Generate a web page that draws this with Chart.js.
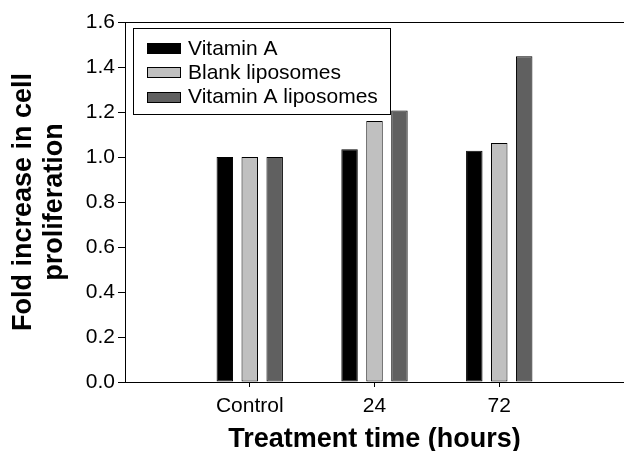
<!DOCTYPE html>
<html>
<head>
<meta charset="utf-8">
<script src="https://cdn.jsdelivr.net/npm/chart.js@4"></script>
<style>
    body { margin: 0; background: #fff; }
    canvas { display: block; }
</style>
</head>
<body>
<canvas id="prolifChart" width="624" height="451"></canvas>
<script>
// Categories (empty slots at both ends to leave the gaps seen in the figure)
const categories = ['', 'Control', '24', '72', ''];

// Fold increase values
const vitaminA = [null, 1.0, 1.035, 1.028, null];
const blankLiposomes = [null, 1.0, 1.16, 1.062, null];
const vitaminALiposomes = [null, 1.0, 1.207, 1.448, null];

const yTicks = [0, 0.2, 0.4, 0.6, 0.8, 1.0, 1.2, 1.4, 1.6];

const FONT = "'Liberation Sans', Arial, sans-serif";
Chart.defaults.font.family = FONT;
Chart.defaults.color = '#000';

function barSet(label, data, color) {
    return {
        label: label,
        data: data,
        backgroundColor: color,
        borderColor: '#000',
        borderWidth: 1,
        borderSkipped: false,
        barPercentage: 0.66,
        categoryPercentage: 0.6
    };
}

// Top frame line over the plot area
const topFramePlugin = {
    id: 'topFrame',
    afterDraw(chart) {
        const { ctx, chartArea: { left, right, top } } = chart;
        ctx.save();
        ctx.strokeStyle = '#000';
        ctx.lineWidth = 1;
        ctx.beginPath();
        ctx.moveTo(left, Math.round(top) + 0.5);
        ctx.lineTo(right, Math.round(top) + 0.5);
        ctx.stroke();
        ctx.restore();
    }
};

// Boxed legend inside the plot, top-left
const boxLegendPlugin = {
    id: 'boxLegend',
    afterDraw(chart) {
        const { ctx } = chart;
        const boxX = 133.5, boxY = 28.5, boxW = 257, boxH = 86;
        ctx.save();
        ctx.fillStyle = '#fff';
        ctx.fillRect(boxX, boxY, boxW, boxH);
        ctx.strokeStyle = '#000';
        ctx.lineWidth = 1;
        ctx.strokeRect(boxX, boxY, boxW, boxH);

        ctx.font = '21px ' + FONT;
        ctx.textAlign = 'left';
        ctx.textBaseline = 'middle';
        chart.data.datasets.forEach((ds, i) => {
            const cy = 48 + i * 24.3;
            ctx.fillStyle = ds.backgroundColor;
            ctx.fillRect(147.5, Math.round(cy - 5) + 0.5, 33, 10);
            ctx.strokeRect(147.5, Math.round(cy - 5) + 0.5, 33, 10);
            ctx.fillStyle = '#000';
            ctx.fillText(ds.label, 188, cy + 1);
        });
        ctx.restore();
    }
};

const chartConfig = {
    type: 'bar',
    data: {
        labels: categories,
        datasets: [
            barSet('Vitamin A', vitaminA, '#000000'),
            barSet('Blank liposomes', blankLiposomes, '#c0c0c0'),
            barSet('Vitamin A liposomes', vitaminALiposomes, '#606060')
        ]
    },
    options: {
        responsive: false,
        animation: false,
        layout: {
            padding: { top: 22, right: -3, bottom: 0, left: 0 }
        },
        plugins: {
            legend: { display: false },
            tooltip: { enabled: false }
        },
        scales: {
            x: {
                offset: false,
                afterFit(scale) {
                    scale.height = 69;
                    scale.paddingLeft = 0;
                    scale.paddingRight = -3;
                },
                grid: {
                    display: true,
                    offset: false,
                    drawOnChartArea: false,
                    drawTicks: true,
                    tickLength: 5,
                    color: (c) => categories[c.index] ? '#000' : 'rgba(0,0,0,0)'
                },
                border: { display: true, color: '#000', width: 1 },
                ticks: {
                    autoSkip: false,
                    maxRotation: 0,
                    padding: 7,
                    font: { size: 21 }
                },
                title: {
                    display: true,
                    text: 'Treatment time (hours)',
                    font: { size: 27, weight: 'bold', lineHeight: 0.82 },
                    padding: { top: 0, bottom: 0 }
                }
            },
            y: {
                min: 0,
                max: 1.6,
                afterFit(scale) { scale.width = 125; },
                afterBuildTicks(scale) {
                    scale.ticks = yTicks.map(v => ({ value: v }));
                },
                grid: {
                    display: true,
                    drawOnChartArea: false,
                    drawTicks: true,
                    tickLength: 7,
                    color: '#000'
                },
                border: { display: true, color: '#000', width: 1 },
                ticks: {
                    padding: 3,
                    font: { size: 21 },
                    callback: (v) => Number(v).toFixed(1)
                },
                title: {
                    display: true,
                    text: ['Fold increase in cell', 'proliferation'],
                    font: { size: 27, weight: 'bold', lineHeight: 1.15 },
                    padding: { top: 8, bottom: 0 }
                }
            }
        }
    },
    plugins: [topFramePlugin, boxLegendPlugin]
};

const prolifChart = new Chart(document.getElementById('prolifChart'), chartConfig);
</script>
</body>
</html>
